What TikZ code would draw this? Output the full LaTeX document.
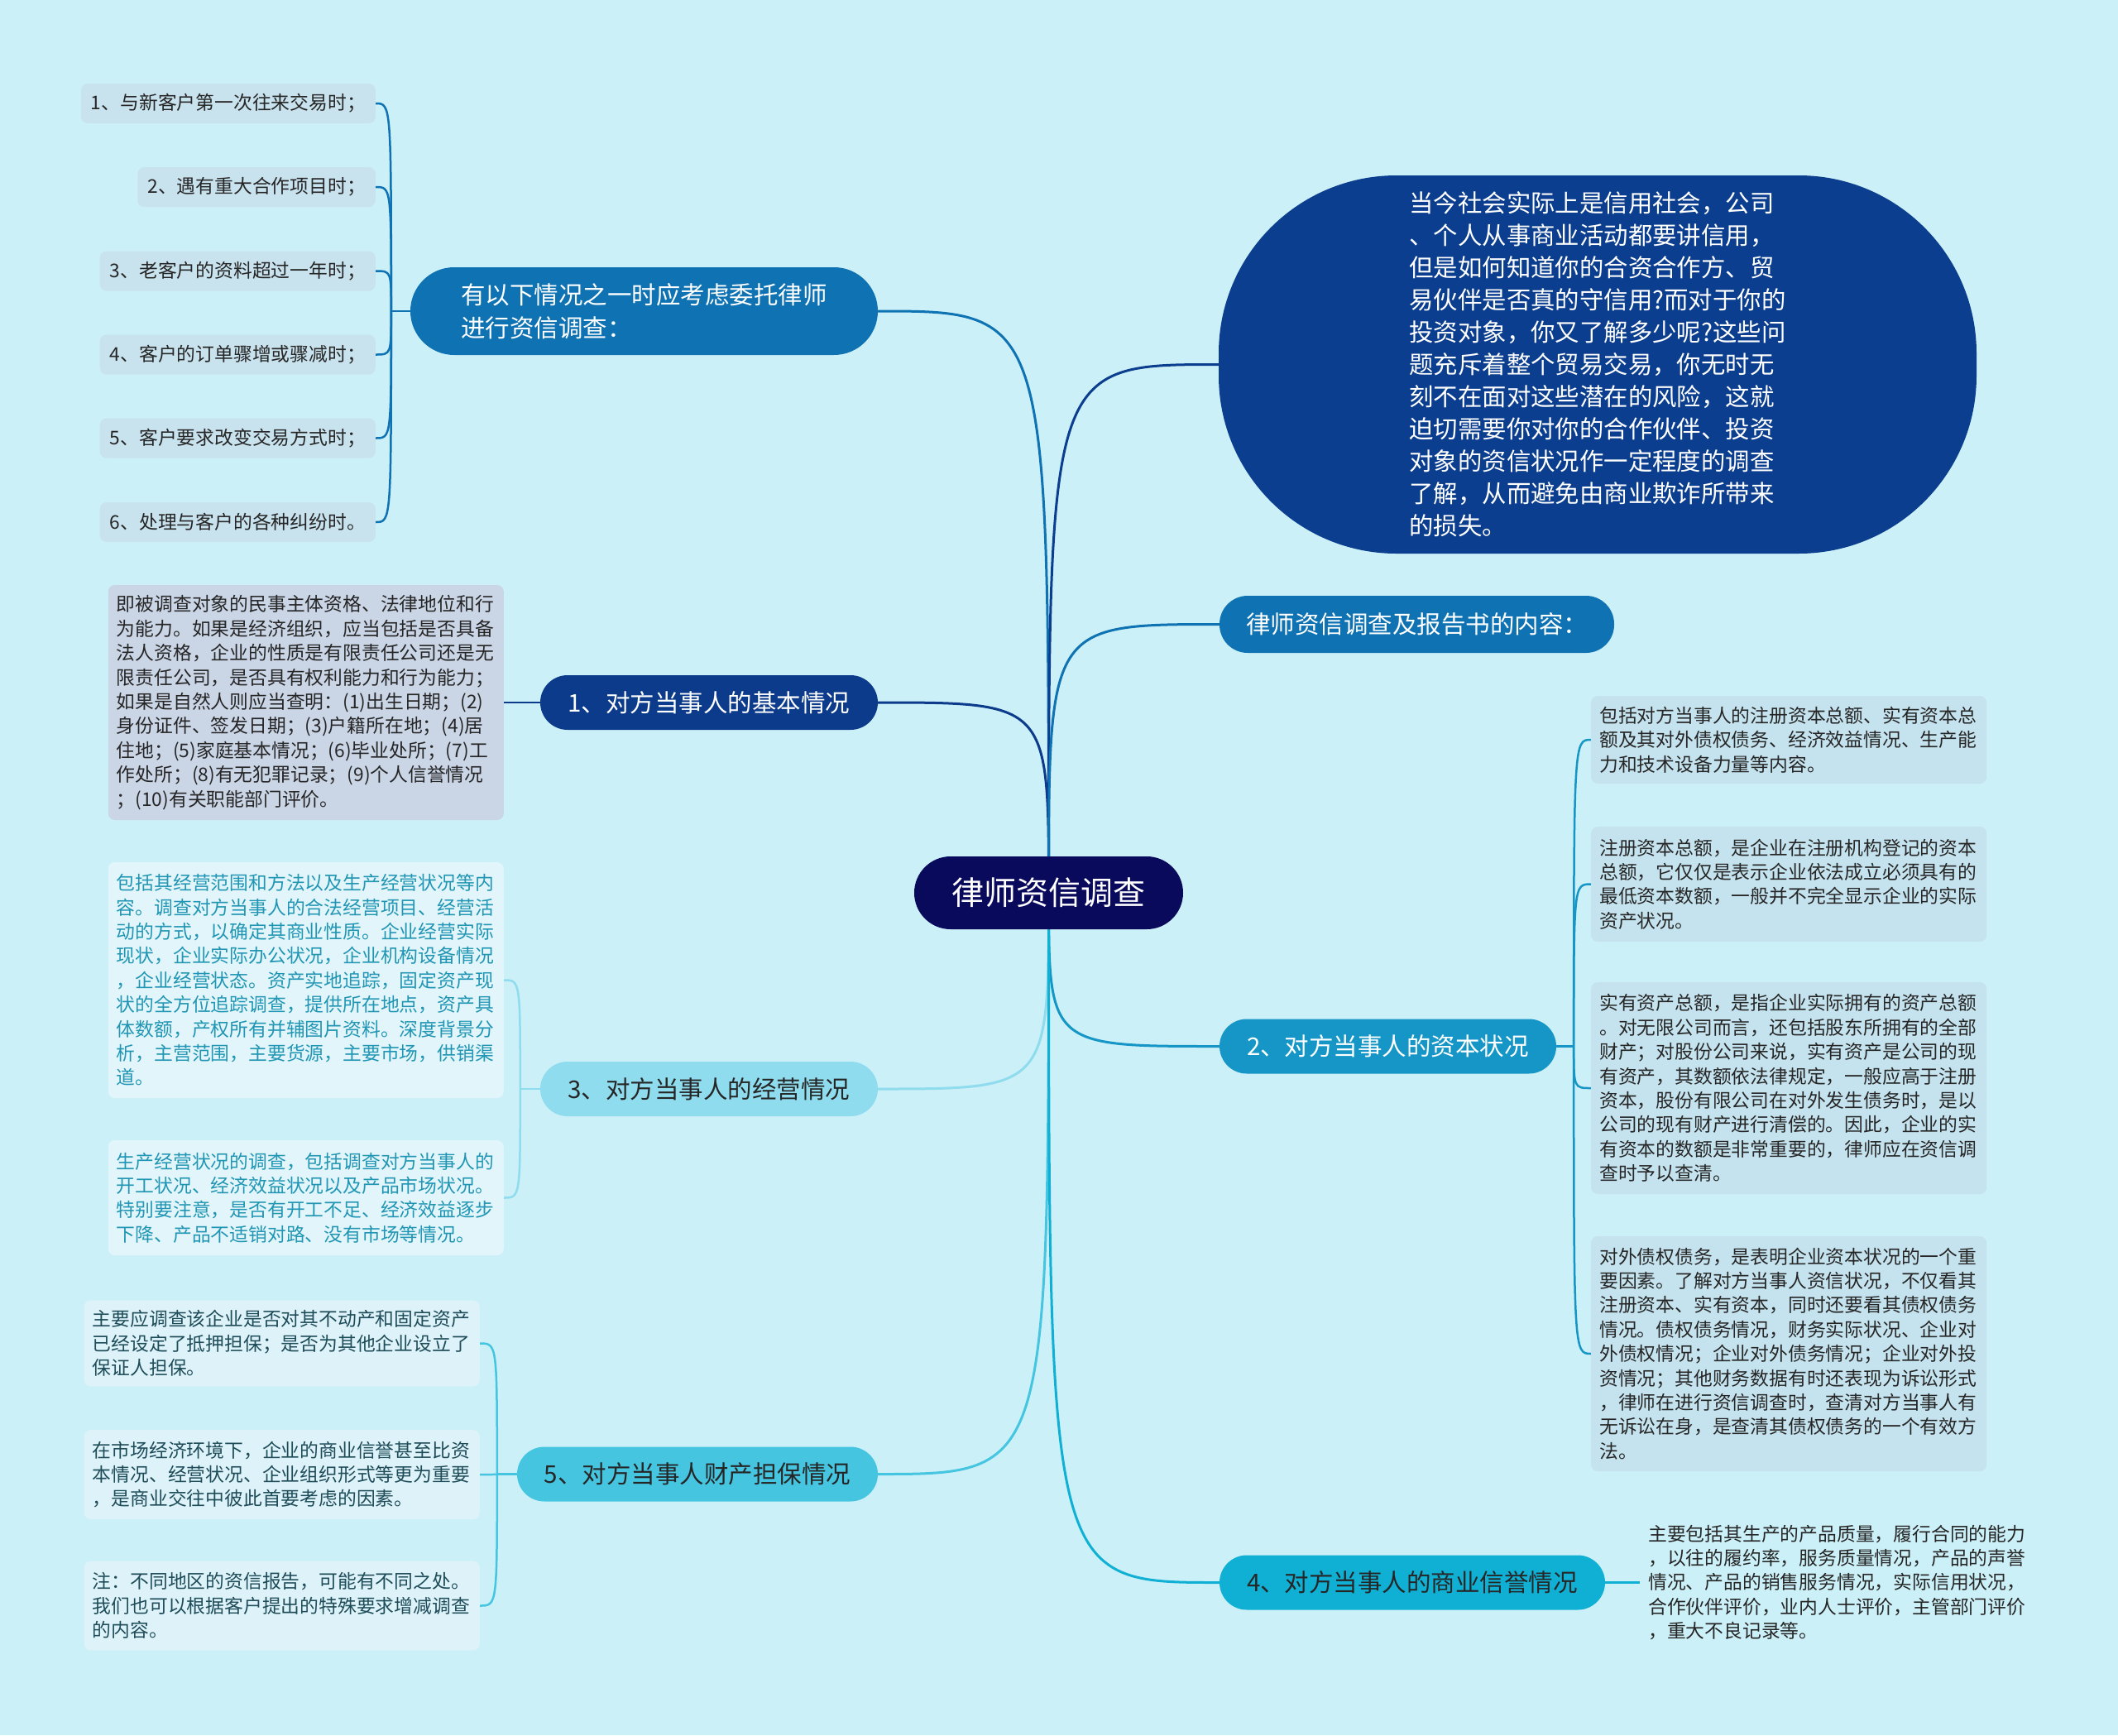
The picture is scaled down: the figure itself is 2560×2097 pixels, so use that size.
\documentclass[tikz,border=0pt]{standalone}
\usepackage{fontspec}
\setmainfont{Noto Sans CJK SC}
\usetikzlibrary{calc}
\pgfdeclarelayer{bglayer}
\pgfdeclarelayer{edgelayer}
\pgfsetlayers{bglayer,edgelayer,main}
\definecolor{bgc}{HTML}{CCF0F8}
\definecolor{rootc}{HTML}{0A0A5C}
\definecolor{cA}{HTML}{0F73B3}
\definecolor{cBig}{HTML}{0B3E8E}
\definecolor{cOne}{HTML}{0C3B8C}
\definecolor{cTwo}{HTML}{1596C6}
\definecolor{cThree}{HTML}{8EDCEE}
\definecolor{cFour}{HTML}{10B0D4}
\definecolor{cFive}{HTML}{45C5E0}
\definecolor{itemfill}{HTML}{C8E2EE}
\definecolor{onefill}{HTML}{CAD5E6}
\definecolor{threefill}{HTML}{E2F5FA}
\definecolor{fivefill}{HTML}{DDF3F9}
\definecolor{twofill}{HTML}{C5E3EE}
\definecolor{darktxt}{HTML}{262626}
\definecolor{threetxt}{HTML}{2196B4}
\definecolor{fivetxt}{HTML}{1F4C59}
\begin{document}
\begin{tikzpicture}[x=1pt,y=-1pt,
  rootnode/.style={fill=rootc, text=white, rounded corners=44pt, minimum width=325pt,
    minimum height=88pt, font=\fontsize{39}{47}\selectfont, inner sep=0pt},
  branch/.style={rounded corners=33pt, minimum height=66pt,
    font=\fontsize{29.5}{40}\selectfont, inner sep=0pt, align=left},
  leaf/.style={rounded corners=8pt, font=\fontsize{22.8}{29.4}\selectfont, align=left,
    inner xsep=10pt, inner ysep=0pt, text width=458pt},
  itembox/.style={rounded corners=8pt, fill=itemfill, text=darktxt,
    font=\fontsize{22.8}{29.4}\selectfont, inner xsep=12pt, inner ysep=0pt,
    minimum height=48pt, anchor=east},
  link/.style={line width=3pt},
  sublink/.style={line width=2.5pt}
]
\begin{pgfonlayer}{bglayer}
\fill[bgc] (0,0) rectangle (2560,2097);
\end{pgfonlayer}
\useasboundingbox (0,0) rectangle (2560,2097);

% root
\node[rootnode] (root) at (1267.5,1079) {律师资信调查};

% left branches
\node[branch, fill=cA, text=white, minimum width=565pt, minimum height=106pt, rounded corners=53pt]
  (B0) at (778.5,376) {有以下情况之一时应考虑委托律师\\进行资信调查：};
\node[branch, fill=cOne, text=white, minimum width=408pt] (B1) at (857,849) {1、对方当事人的基本情况};
\node[branch, fill=cThree, text=darktxt, minimum width=408pt] (B3) at (857,1316) {3、对方当事人的经营情况};
\node[branch, fill=cFive, text=darktxt, minimum width=436pt] (B5) at (843,1781.5) {5、对方当事人财产担保情况};

% right branches
\node[fill=cBig, text=white, rounded corners=215pt, minimum width=916pt, minimum height=457pt,
  inner sep=0pt, align=left, font=\fontsize{29.4}{39}\selectfont] (BR0) at (1931,440.5)
  {当今社会实际上是信用社会，公司\\
   、个人从事商业活动都要讲信用，\\
   但是如何知道你的合资合作方、贸\\
   易伙伴是否真的守信用?而对于你的\\
   投资对象，你又了解多少呢?这些问\\
   题充斥着整个贸易交易，你无时无\\
   刻不在面对这些潜在的风险，这就\\
   迫切需要你对你的合作伙伴、投资\\
   对象的资信状况作一定程度的调查\\
   了解，从而避免由商业欺诈所带来\\
   的损失。};
\node[branch, fill=cA, text=white, minimum width=477pt, minimum height=69pt, rounded corners=34pt]
  (BR1) at (1712.5,754.5) {律师资信调查及报告书的内容：};
\node[branch, fill=cTwo, text=white, minimum width=407pt] (B2) at (1677.5,1264.5) {2、对方当事人的资本状况};
\node[branch, fill=cFour, text=darktxt, minimum width=466pt] (B4) at (1707,1912.5) {4、对方当事人的商业信誉情况};

% items of B0
\node[itembox] (I1) at (454,125) {1、与新客户第一次往来交易时；};
\node[itembox] (I2) at (454,226) {2、遇有重大合作项目时；};
\node[itembox] (I3) at (454,327.5) {3、老客户的资料超过一年时；};
\node[itembox] (I4) at (454,428.5) {4、客户的订单骤增或骤减时；};
\node[itembox] (I5) at (454,529.5) {5、客户要求改变交易方式时；};
\node[itembox] (I6) at (454,631) {6、处理与客户的各种纠纷时。};

% leaf of B1
\node[leaf, fill=onefill, text=darktxt, anchor=east, minimum height=284pt] (L1) at (609,849)
  {即被调查对象的民事主体资格、法律地位和行\\
   为能力。如果是经济组织，应当包括是否具备\\
   法人资格，企业的性质是有限责任公司还是无\\
   限责任公司，是否具有权利能力和行为能力；\\
   如果是自然人则应当查明：(1)出生日期；(2)\\
   身份证件、签发日期；(3)户籍所在地；(4)居\\
   住地；(5)家庭基本情况；(6)毕业处所；(7)工\\
   作处所；(8)有无犯罪记录；(9)个人信誉情况\\
   ；(10)有关职能部门评价。};

% leaves of B3
\node[leaf, fill=threefill, text=threetxt, anchor=east, minimum height=285pt] (L3a) at (609,1184.5)
  {包括其经营范围和方法以及生产经营状况等内\\
   容。调查对方当事人的合法经营项目、经营活\\
   动的方式，以确定其商业性质。企业经营实际\\
   现状，企业实际办公状况，企业机构设备情况\\
   ，企业经营状态。资产实地追踪，固定资产现\\
   状的全方位追踪调查，提供所在地点，资产具\\
   体数额，产权所有并辅图片资料。深度背景分\\
   析，主营范围，主要货源，主要市场，供销渠\\
   道。};
\node[leaf, fill=threefill, text=threetxt, anchor=east, minimum height=139pt] (L3b) at (609,1447.5)
  {生产经营状况的调查，包括调查对方当事人的\\
   开工状况、经济效益状况以及产品市场状况。\\
   特别要注意，是否有开工不足、经济效益逐步\\
   下降、产品不适销对路、没有市场等情况。};

% leaves of B5
\node[leaf, fill=fivefill, text=fivetxt, anchor=east, minimum height=104pt] (L5a) at (580,1623.5)
  {主要应调查该企业是否对其不动产和固定资产\\
   已经设定了抵押担保；是否为其他企业设立了\\
   保证人担保。};
\node[leaf, fill=fivefill, text=fivetxt, anchor=east, minimum height=108pt] (L5b) at (580,1782)
  {在市场经济环境下，企业的商业信誉甚至比资\\
   本情况、经营状况、企业组织形式等更为重要\\
   ，是商业交往中彼此首要考虑的因素。};
\node[leaf, fill=fivefill, text=fivetxt, anchor=east, minimum height=108pt] (L5c) at (580,1940.5)
  {注：不同地区的资信报告，可能有不同之处。\\
   我们也可以根据客户提出的特殊要求增减调查\\
   的内容。};

% leaves of B2
\node[leaf, fill=twofill, text=darktxt, anchor=west, minimum height=106pt] (L2a) at (1923,894)
  {包括对方当事人的注册资本总额、实有资本总\\
   额及其对外债权债务、经济效益情况、生产能\\
   力和技术设备力量等内容。};
\node[leaf, fill=twofill, text=darktxt, anchor=west, minimum height=139pt] (L2b) at (1923,1068.5)
  {注册资本总额，是企业在注册机构登记的资本\\
   总额，它仅仅是表示企业依法成立必须具有的\\
   最低资本数额，一般并不完全显示企业的实际\\
   资产状况。};
\node[leaf, fill=twofill, text=darktxt, anchor=west, minimum height=256pt] (L2c) at (1923,1315)
  {实有资产总额，是指企业实际拥有的资产总额\\
   。对无限公司而言，还包括股东所拥有的全部\\
   财产；对股份公司来说，实有资产是公司的现\\
   有资产，其数额依法律规定，一般应高于注册\\
   资本，股份有限公司在对外发生债务时，是以\\
   公司的现有财产进行清偿的。因此，企业的实\\
   有资本的数额是非常重要的，律师应在资信调\\
   查时予以查清。};
\node[leaf, fill=twofill, text=darktxt, anchor=west, minimum height=284pt] (L2d) at (1923,1636)
  {对外债权债务，是表明企业资本状况的一个重\\
   要因素。了解对方当事人资信状况，不仅看其\\
   注册资本、实有资本，同时还要看其债权债务\\
   情况。债权债务情况，财务实际状况、企业对\\
   外债权情况；企业对外债务情况；企业对外投\\
   资情况；其他财务数据有时还表现为诉讼形式\\
   ，律师在进行资信调查时，查清对方当事人有\\
   无诉讼在身，是查清其债权债务的一个有效方\\
   法。};

% leaf of B4
\node[leaf, text=darktxt, anchor=west, minimum height=155pt] (L4) at (1982,1912.5)
  {主要包括其生产的产品质量，履行合同的能力\\
   ，以往的履约率，服务质量情况，产品的声誉\\
   情况、产品的销售服务情况，实际信用状况，\\
   合作伙伴评价，业内人士评价，主管部门评价\\
   ，重大不良记录等。};

% connectors
\coordinate (j0) at ($(B0.west)+(-23,0)$);
\coordinate (j3) at ($(B3.west)+(-24,0)$);
\coordinate (j5) at ($(B5.west)+(-24,0)$);
\coordinate (j2) at ($(B2.east)+(21,0)$);
\begin{pgfonlayer}{edgelayer}
\draw[link, cA] (root.center) .. controls (root.center |- B0.east) .. (B0.east);
\draw[link, cOne] (root.center) .. controls (root.center |- B1.east) .. (B1.east);
\draw[link, cThree] (root.center) .. controls (root.center |- B3.east) .. (B3.east);
\draw[link, cFive] (root.center) .. controls (root.center |- B5.east) .. (B5.east);
\draw[link, cBig] (root.center) .. controls (root.center |- BR0.west) .. (BR0.west);
\draw[link, cA] (root.center) .. controls (root.center |- BR1.west) .. (BR1.west);
\draw[link, cTwo] (root.center) .. controls (root.center |- B2.west) .. (B2.west);
\draw[link, cFour] (root.center) .. controls (root.center |- B4.west) .. (B4.west);

\draw[sublink, cA] (B0.west) -- (j0);
\foreach \n in {I1,I2,I3,I4,I5,I6}
  \draw[sublink, cA] (j0) .. controls (j0 |- \n.east) .. (\n.east);
\draw[sublink, cOne] (B1.west) -- (L1.east);
\draw[sublink, cThree] (B3.west) -- (j3);
\foreach \n in {L3a,L3b}
  \draw[sublink, cThree] (j3) .. controls (j3 |- \n.east) .. (\n.east);
\draw[sublink, cFive] (B5.west) -- (j5);
\foreach \n in {L5a,L5b,L5c}
  \draw[sublink, cFive] (j5) .. controls (j5 |- \n.east) .. (\n.east);
\draw[sublink, cTwo] (B2.east) -- (j2);
\foreach \n in {L2a,L2b,L2c,L2d}
  \draw[sublink, cTwo] (j2) .. controls (j2 |- \n.west) .. (\n.west);
\draw[sublink, cFour] (B4.east) -- (L4.west);
\end{pgfonlayer}
\end{tikzpicture}
\end{document}
